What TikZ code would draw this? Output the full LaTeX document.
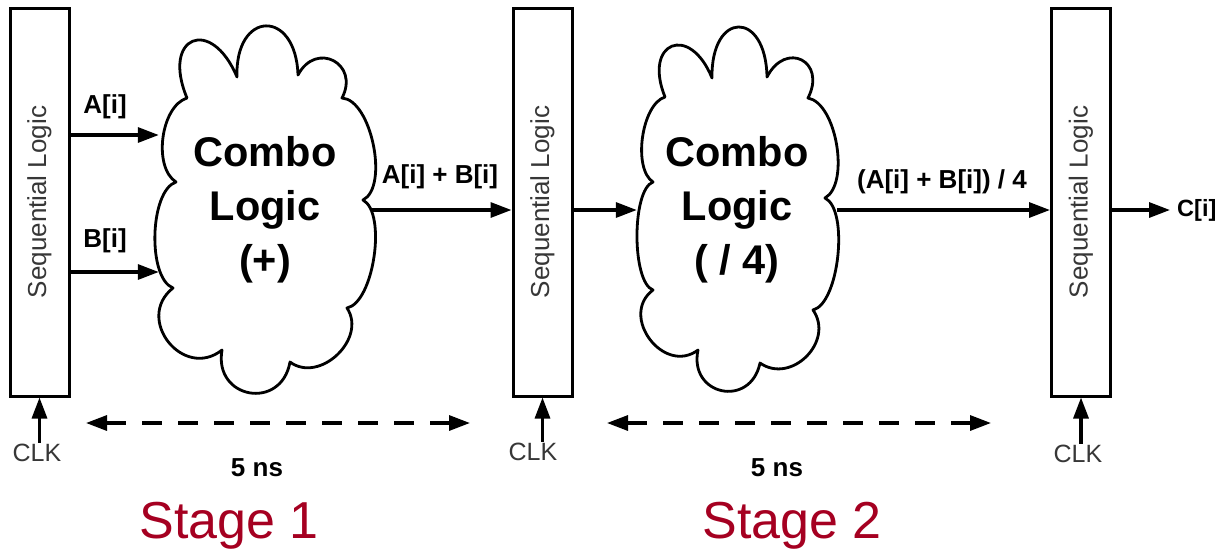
\documentclass[tikz,border=0pt]{standalone}
\usepackage{fontspec}
\setmainfont{Liberation Sans}
\usetikzlibrary{arrows.meta,calc}
\definecolor{stagered}{RGB}{165,0,33}
\definecolor{inkgray}{RGB}{55,55,55}

\begin{document}
\begin{tikzpicture}[x=1pt,y=1pt,
  reg/.style={draw=black, line width=3pt, fill=white, minimum width=59pt,
    minimum height=388pt, inner sep=0pt, font=\fontsize{26}{30}\selectfont, text=inkgray},
  sig/.style={line width=3.2pt, -{Triangle[length=21pt,width=15pt]}},
  span/.style={line width=3.2pt, dash pattern=on 20pt off 16pt,
    {Triangle[length=21pt,width=15pt]}-{Triangle[length=21pt,width=15pt]}},
  puff/.style={draw=black, fill=white, line width=2.8pt, line join=round},
  cloudtext/.style={font=\fontsize{41.5}{54}\selectfont\bfseries, align=center,
    inner sep=0pt, minimum height=365pt},
  lbl/.style={font=\fontsize{26}{30}\selectfont\bfseries, inner sep=1pt},
  clk/.style={font=\fontsize{25}{30}\selectfont, text=inkgray, inner sep=1pt},
  stage/.style={font=\fontsize{52}{60}\selectfont, text=stagered, anchor=base},
]
\useasboundingbox (0,0) rectangle (1220,-550);

% first combinational cloud (adder): one outward arc per puff, clockwise
\draw[puff] (176,-182)
  to[bend left=65, looseness=0.83] (187,-98)
  to[bend left=90, looseness=3.15] (237,-77)
  to[bend left=90, looseness=2.8]  (298,-75)
  to[bend left=90, looseness=2.0]  (342,-98)
  to[bend left=75, looseness=0.72] (363,-200)
  to[bend left=70, looseness=0.64] (347,-308)
  to[bend left=80, looseness=1.2]  (290,-362)
  to[bend left=90, looseness=1.85] (222,-350)
  to[bend left=90, looseness=1.6]  (173,-288)
  to[bend left=70, looseness=0.67] (176,-182)
  -- cycle;

% second combinational cloud (divide by four)
\draw[puff] (653,-182)
  to[bend left=65, looseness=0.73] (665,-97)
  to[bend left=90, looseness=3.0]  (712,-78)
  to[bend left=90, looseness=3.13] (767,-77)
  to[bend left=90, looseness=2.29] (808,-98)
  to[bend left=70, looseness=0.73] (825,-198)
  to[bend left=70, looseness=0.61] (813,-310)
  to[bend left=80, looseness=1.3]  (760,-363)
  to[bend left=90, looseness=1.88] (698,-350)
  to[bend left=90, looseness=1.46] (653,-290)
  to[bend left=70, looseness=0.54] (653,-182)
  -- cycle;

% cloud contents
\node[cloudtext, minimum width=212pt] (cl1) at (265,-210) {Combo\\Logic\\(+)};
\node[cloudtext, minimum width=200pt] (cl2) at (737,-210) {Combo\\Logic\\( / 4)};

% pipeline registers
\node[reg] (sr1) at (39.5,-202) {\rotatebox{90}{Sequential Logic}};
\node[reg] (sr2) at (542.5,-202) {\rotatebox{90}{Sequential Logic}};
\node[reg] (sr3) at (1081,-202) {\rotatebox{90}{Sequential Logic}};

% signal labels
\node[lbl] (la) at (105,-107) {A[i]};
\node[lbl] (lb) at (105,-241) {B[i]};
\node[lbl] (lab) at (440,-177) {A[i] + B[i]};
\node[lbl] (lq) at (942,-182) {(A[i] + B[i]) / 4};
\node[lbl, font=\fontsize{23.5}{28}\selectfont\bfseries, anchor=west] (cout) at (1176,-210) {C[i]};

% data path
\draw[sig] (sr1.east |- 0,-135) -- (cl1.west |- 0,-135);
\draw[sig] (sr1.east |- 0,-272) -- (cl1.west |- 0,-272);
\draw[sig] (cl1.east |- 0,-210) -- (sr2.west |- 0,-210);
\draw[sig] (sr2.east |- 0,-210) -- (cl2.west |- 0,-210);
\draw[sig] (cl2.east |- 0,-210) -- (sr3.west |- 0,-210);
\draw[sig] (sr3.east |- 0,-210) -- ([xshift=-6pt]cout.west);

% clocks
\node[clk] (k1) at (37,-453) {CLK};
\node[clk] (k2) at (533,-452) {CLK};
\node[clk] (k3) at (1078,-454) {CLK};
\draw[sig] (sr1.south |- k1.north) -- (sr1.south);
\draw[sig] (sr2.south |- k2.north) -- (sr2.south);
\draw[sig] (sr3.south |- k3.north) -- (sr3.south);

% stage timing
\coordinate (s1a) at (86,-423);
\coordinate (s1b) at (470,-423);
\coordinate (s2a) at (607,-423);
\coordinate (s2b) at (991,-423);
\draw[span] (s1a) -- (s1b);
\draw[span] (s2a) -- (s2b);
\node[lbl] (t1) at (257,-468) {5 ns};
\node[lbl] (t2) at (777,-468) {5 ns};

\node[stage] (st1) at (229,-538) {Stage 1};
\node[stage] (st2) at (792,-538) {Stage 2};
\end{tikzpicture}
\end{document}
